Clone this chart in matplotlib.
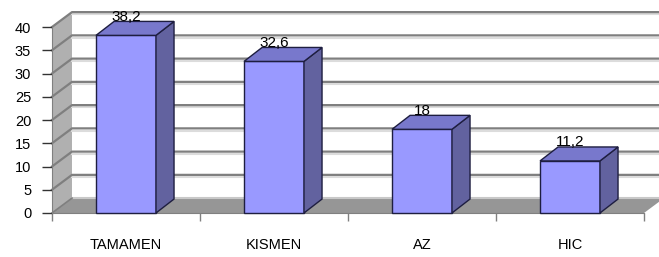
import matplotlib
matplotlib.use('Agg')
import matplotlib.pyplot as plt
from matplotlib.patches import Polygon

plt.rcParams['font.family'] = ['Liberation Sans', 'DejaVu Sans']

categories = ['TAMAMEN', 'KISMEN', 'AZ', 'HIC']
values = [38.2, 32.6, 18, 11.2]
value_labels = ['38,2', '32,6', '18', '11,2']
y_ticks = [0, 5, 10, 15, 20, 25, 30, 35, 40]

# 3D look: depth offset of the walls and of the bars, in data units
DX, DY = 0.135, 3.2
BDX, BDY = 0.122, 3.0
BAR_W = 0.405

fig = plt.figure(figsize=(6.59, 2.57), dpi=100)
ax = fig.add_axes([52 / 659, 44 / 257, 592 / 659, 186 / 257])
ax.set_xlim(0, len(categories))
ax.set_ylim(0, 40)
ax.patch.set_visible(False)

n = len(categories)

def poly(pts, fc, ec='none', lw=0, z=1):
    ax.add_patch(Polygon(pts, closed=True, facecolor=fc, edgecolor=ec,
                         linewidth=lw, zorder=z, clip_on=False))

# walls and floor
poly([(DX, DY), (n + DX, DY), (n + DX, 40 + DY), (DX, 40 + DY)], 'white', z=0)
poly([(0, 0), (DX, DY), (DX, 40 + DY), (0, 40)], '#b0b0b0', z=0.5)
poly([(0, 0), (n, 0), (n + DX, DY), (DX, DY)], '#969696', z=0.5)
ax.plot([DX, n + DX], [DY, DY], color='#c8c8c8', lw=1.5, zorder=0.6, clip_on=False)

# gridlines on side and back walls
for v in y_ticks[1:]:
    ax.plot([DX, n + DX], [v + DY - 0.5, v + DY - 0.5], color='#dcdcdc', lw=1.5,
            zorder=0.7, clip_on=False)
    ax.plot([0, DX, n + DX], [v, v + DY, v + DY], color='#7f7f7f', lw=1.6,
            zorder=0.8, clip_on=False)
ax.plot([0, DX], [0, DY], color='#7f7f7f', lw=1.2, zorder=0.8, clip_on=False)

# bars
for i, (v, lab) in enumerate(zip(values, value_labels)):
    x0 = i + 0.5 - BAR_W / 2
    x1 = x0 + BAR_W
    poly([(x0, 0), (x1, 0), (x1, v), (x0, v)], '#9999ff', '#1e1e40', 1.0, 3)
    poly([(x1, 0), (x1 + BDX, BDY), (x1 + BDX, v + BDY), (x1, v)], '#62629f', '#1e1e40', 1.0, 3)
    poly([(x0, v), (x1, v), (x1 + BDX, v + BDY), (x0 + BDX, v + BDY)], '#7878cc', '#1e1e40', 1.0, 3)
    ax.text(i + 0.5, v + BDY - 0.5, lab, ha='center', va='bottom', fontsize=11, zorder=4)

# axes
for s in ['top', 'right']:
    ax.spines[s].set_visible(False)
ax.spines['left'].set_color('#808080')
ax.spines['bottom'].set_color('#808080')
ax.set_yticks(y_ticks)
ax.tick_params(axis='y', length=7, width=1, color='#333333', labelsize=10.5, pad=8)
ax.set_xticks([i + 0.5 for i in range(n)])
ax.set_xticklabels(categories)
ax.set_xticks(range(n + 1), minor=True)
ax.tick_params(axis='x', which='major', length=0, labelsize=10.5, pad=18)
ax.tick_params(axis='x', which='minor', length=6, width=1, color='#808080')

fig.savefig('out.png', dpi=100)
